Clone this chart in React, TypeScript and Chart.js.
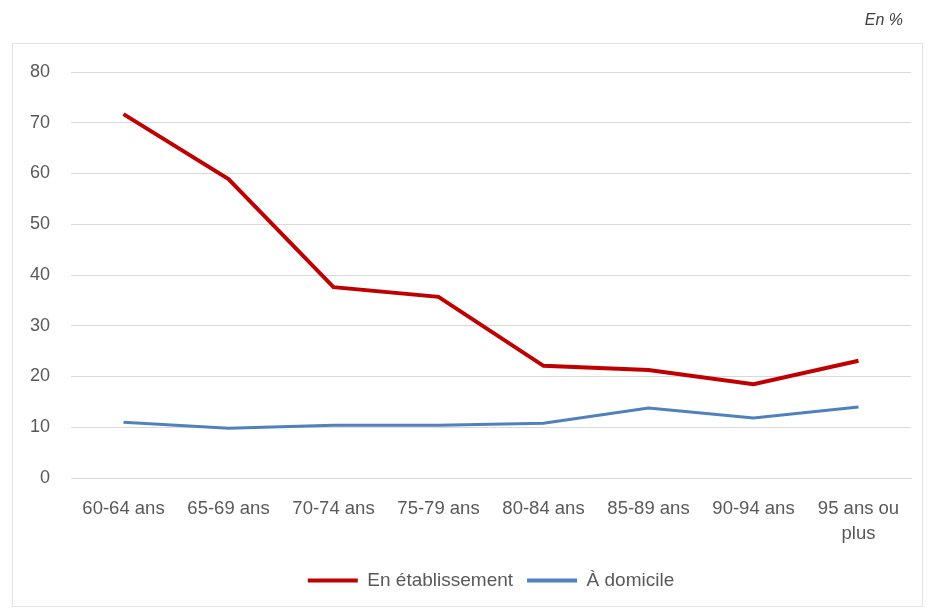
import React, { useEffect, useRef } from "react";
import { Chart, registerables } from "chart.js";

Chart.register(...registerables);

const categories: (string | string[])[] = [
  "60-64 ans",
  "65-69 ans",
  "70-74 ans",
  "75-79 ans",
  "80-84 ans",
  "85-89 ans",
  "90-94 ans",
  ["95 ans ou", "plus"],
];
const enEtablissement = [71.7, 58.9, 37.6, 35.7, 22.1, 21.3, 18.5, 23.1];
const aDomicile = [11.0, 9.8, 10.4, 10.4, 10.8, 13.8, 11.8, 14.0];
const yTicks = { min: 0, max: 80, step: 10 };
const unitLabel = "En %";

const FONT = "'Liberation Sans', Arial, sans-serif";
const TEXT = "#595959";
const GRID = "#d9d9d9";

export default function App() {
  const ref = useRef<HTMLCanvasElement | null>(null);

  useEffect(() => {
    if (!ref.current) return;
    const chart = new Chart(ref.current, {
      type: "line",
      data: {
        labels: categories,
        datasets: [
          {
            label: "En établissement",
            data: enEtablissement,
            borderColor: "#C00000",
            backgroundColor: "#C00000",
            borderWidth: 4,
            pointRadius: 0,
            tension: 0,
          },
          {
            label: "À domicile",
            data: aDomicile,
            borderColor: "#4F81BD",
            backgroundColor: "#4F81BD",
            borderWidth: 3,
            pointRadius: 0,
            tension: 0,
          },
        ],
      },
      options: {
        responsive: false,
        animation: false,
        layout: { padding: { left: 0, right: 17, top: 72, bottom: 11 } },
        plugins: {
          tooltip: { enabled: false },
          legend: {
            position: "bottom",
            fullSize: false,
            labels: {
              color: TEXT,
              font: { family: FONT, size: 19 },
              boxWidth: 50,
              boxHeight: 4,
              padding: 14,
              generateLabels: (c: any) =>
                Chart.defaults.plugins.legend.labels
                  .generateLabels(c)
                  .map((l: any) => ({ ...l, lineWidth: 0 })),
            },
          },
        },
        scales: {
          x: {
            offset: true,
            grid: { display: false, drawTicks: false },
            border: { display: true, color: GRID, width: 1 },
            ticks: {
              color: TEXT,
              font: { family: FONT, size: 18.5, lineHeight: 1.35 },
              padding: 18,
              maxRotation: 0,
              autoSkip: false,
            },
            afterFit: (s: any) => {
              s.height = 79;
            },
          },
          y: {
            min: yTicks.min,
            max: yTicks.max,
            grid: { color: GRID, drawTicks: false },
            border: { display: false },
            ticks: {
              stepSize: yTicks.step,
              color: TEXT,
              font: { family: FONT, size: 18 },
              padding: 21,
            },
            afterFit: (s: any) => {
              s.width = 71;
            },
          },
        },
      },
    });
    return () => chart.destroy();
  }, []);

  return (
    <div
      style={{
        position: "fixed",
        left: 0,
        top: 0,
        width: 928,
        height: 611,
        background: "#fff",
        overflow: "hidden",
      }}
    >
      <canvas ref={ref} width={928} height={611} style={{ display: "block" }} />
      <div
        style={{
          position: "absolute",
          left: 12,
          top: 43,
          width: 911,
          height: 564,
          border: "1px solid #e3e3e3",
          boxSizing: "border-box",
          pointerEvents: "none",
        }}
      />
      <span
        style={{
          position: "absolute",
          right: 25,
          top: 10,
          fontFamily: FONT,
          fontStyle: "italic",
          fontSize: 16,
          lineHeight: "20px",
          color: "#404040",
        }}
      >
        {unitLabel}
      </span>
    </div>
  );
}
